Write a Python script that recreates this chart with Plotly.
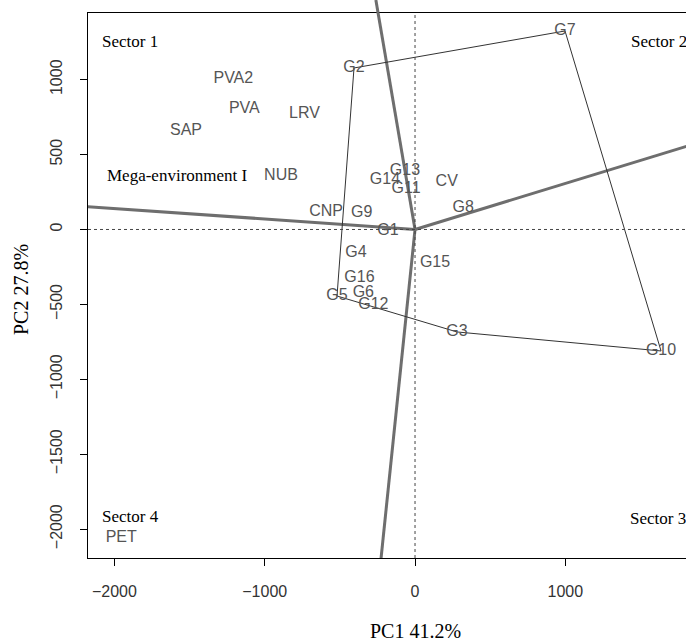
import plotly.graph_objects as go

# genotype scores (PC1, PC2)
gen_names = ["G1", "G2", "G3", "G4", "G5", "G6", "G7", "G8",
             "G9", "G10", "G11", "G12", "G13", "G14", "G15", "G16"]
gen_pc1 = [-180, -406, 279, -393, -519, -344, 998, 320,
           -355, 1637, -60, -277, -67, -200, 133, -370]
gen_pc2 = [-8, 1078, -684, -155, -444, -426, 1325, 143,
           108, -811, 269, -504, 391, 331, -226, -326]

# environment scores
env_names = ["PVA2", "PVA", "LRV", "SAP", "NUB", "CNP", "CV", "PET"]
env_pc1 = [-1209, -1136, -736, -1524, -892, -592, 211, -1955]
env_pc2 = [1005, 802, 769, 658, 359, 119, 319, -2059]

# convex hull of the genotypes
hull = ["G7", "G10", "G3", "G5", "G2", "G7"]

# sector rays, tips beyond the plot edge
ray_pc1 = [-262, -2300, 2000, -240]
ray_pc2 = [1540, 161, 614, -2330]

# sector / mega-environment captions (left anchored)
cap_text = ["Sector 1", "Sector 2", "Sector 3", "Sector 4", "Mega-environment I"]
cap_pc1 = [-2096, 1424, 1417, -2096, -2063]
cap_pc2 = [1254, 1254, -1926, -1919, 359]

xrange_ = [-2176, 1803]
yrange_ = [-2193, 1445]

label_font = dict(family="Liberation Sans, Arial", size=16, color="#555555")
serif = "Liberation Serif, Times New Roman"

fig = go.Figure()

# dotted reference lines
fig.add_shape(type="line", x0=0, x1=0, y0=yrange_[0], y1=yrange_[1],
              line=dict(color="#444444", width=1, dash="dot"))
fig.add_shape(type="line", x0=xrange_[0], x1=xrange_[1], y0=0, y1=0,
              line=dict(color="#444444", width=1, dash="dot"))

# rays
for rx, ry in zip(ray_pc1, ray_pc2):
    fig.add_trace(go.Scatter(x=[0, rx], y=[0, ry], mode="lines",
                             line=dict(color="#6e6e6e", width=3),
                             hoverinfo="skip", showlegend=False))

# the upper ray runs on past the top frame to the page edge
top_extra = 1 + 13 / 545
y_top_data = yrange_[0] + top_extra * (yrange_[1] - yrange_[0])
slope = ray_pc1[0] / ray_pc2[0]
def xpaper(v):
    return (v - xrange_[0]) / (xrange_[1] - xrange_[0])
fig.add_shape(type="line", xref="paper", yref="paper",
              x0=xpaper(slope * yrange_[1]), y0=1,
              x1=xpaper(slope * y_top_data), y1=top_extra,
              line=dict(color="#6e6e6e", width=3))

# polygon
idx = [gen_names.index(g) for g in hull]
fig.add_trace(go.Scatter(x=[gen_pc1[i] for i in idx], y=[gen_pc2[i] for i in idx],
                         mode="lines", line=dict(color="#333333", width=1),
                         hoverinfo="skip", showlegend=False))

fig.add_trace(go.Scatter(x=gen_pc1, y=gen_pc2, mode="text", text=gen_names,
                         textfont=label_font, showlegend=False))
fig.add_trace(go.Scatter(x=env_pc1, y=env_pc2, mode="text", text=env_names,
                         textfont=label_font, showlegend=False))

for t, cx, cy in zip(cap_text, cap_pc1, cap_pc2):
    fig.add_annotation(x=cx, y=cy, text=t, showarrow=False, xanchor="left",
                       yanchor="middle", font=dict(family=serif, size=17, color="black"))

# axis titles
fig.add_annotation(xref="paper", yref="paper", x=(415 - 88) / 598, y=0,
                   yanchor="middle", yshift=-73, text="PC1 41.2%", showarrow=False,
                   font=dict(family=serif, size=20, color="black"))
fig.add_annotation(xref="paper", yref="paper", x=0, y=(558 - 290) / 545,
                   xanchor="center", xshift=-67, text="PC2 27.8%", showarrow=False,
                   textangle=-90, font=dict(family=serif, size=20, color="black"))

axis_common = dict(showgrid=False, zeroline=False, showline=True, linecolor="black",
                   linewidth=1, ticks="outside", ticklen=7, tickcolor="black",
                   tickfont=dict(family="Liberation Sans, Arial", size=16, color="#333333"))

fig.update_layout(
    width=686, height=641,
    margin=dict(l=88, r=0, t=13, b=83),
    plot_bgcolor="white", paper_bgcolor="white",
    xaxis=dict(range=xrange_, tickvals=[-2000, -1000, 0, 1000], mirror=True,
               ticklabelstandoff=12, **axis_common),
    yaxis=dict(range=yrange_, tickvals=[-2000, -1500, -1000, -500, 0, 500, 1000],
               tickangle=-90, ticklabelstandoff=12, **axis_common),
)

fig.write_html("out.html", config={"displayModeBar": False},
               post_script="document.body.style.margin='0';")
